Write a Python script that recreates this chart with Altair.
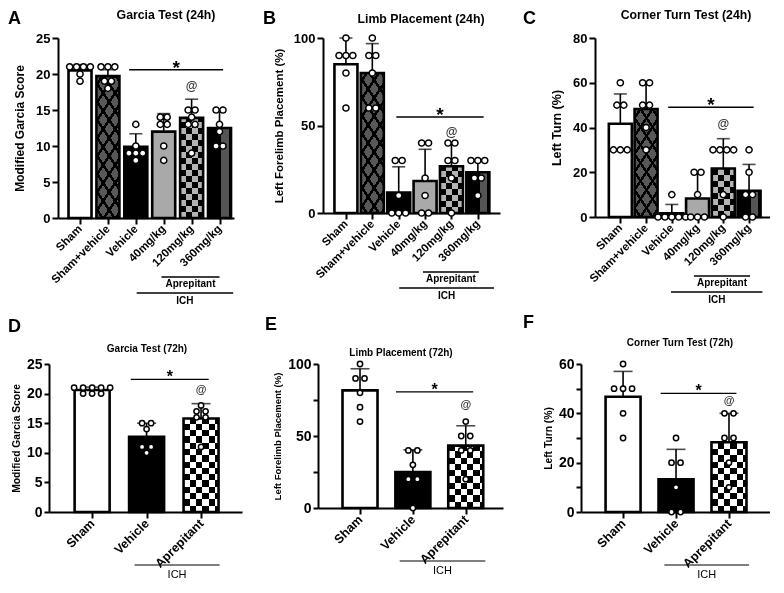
import altair as alt
import pandas as pd
from collections import Counter

FONT = "Liberation Sans"

# ---------------- data ----------------
groups_24h = ["Sham", "Sham+vehicle", "Vehicle", "40mg/kg", "120mg/kg", "360mg/kg"]
groups_72h = ["Sham", "Vehicle", "Aprepitant"]

garcia24_mean = [20.5, 19.7, 9.9, 12.0, 13.9, 12.5]
garcia24_sd = [0.8, 0.9, 1.8, 2.5, 2.6, 2.2]
garcia24_pts = [[21, 21, 21, 21, 20, 19], [21, 21, 21, 19, 19, 18], [13, 10, 9, 9, 9, 8],
                [14, 14, 13, 13, 10, 8], [15, 15, 14, 13, 13, 9], [15, 15, 13, 12, 10, 10]]

limb24_mean = [85.0, 80.0, 11.7, 18.3, 26.7, 23.3]
limb24_sd = [15.0, 16.8, 14.7, 18.1, 13.5, 6.2]
limb24_pts = [[100, 90, 90, 90, 80, 60], [100, 90, 90, 80, 60, 60], [30, 30, 10, 0, 0, 0],
              [40, 40, 20, 10, 0, 0], [40, 40, 30, 30, 20, 0], [30, 30, 30, 20, 20, 10]]

corner24_mean = [41.7, 48.3, 1.7, 8.3, 21.7, 11.7]
corner24_sd = [13.3, 11.9, 3.9, 11.7, 13.3, 11.8]
corner24_pts = [[60, 50, 50, 30, 30, 30], [60, 60, 50, 50, 40, 30], [10, 0, 0, 0, 0, 0],
                [20, 20, 10, 0, 0, 0], [30, 30, 30, 30, 10, 0], [30, 20, 10, 10, 0, 0]]

garcia72_mean = [20.6, 12.7, 15.8]
garcia72_sd = [0.5, 2.3, 2.5]
garcia72_pts = [[21, 21, 21, 21, 21, 20, 20, 20], [15, 15, 14, 11, 11, 10], [18, 17, 17, 16, 16, 11]]

limb72_mean = [81.7, 25.0, 43.3]
limb72_sd = [15.0, 15.4, 13.8]
limb72_pts = [[100, 90, 90, 80, 70, 60], [40, 40, 30, 20, 20, 0], [60, 50, 50, 40, 40, 20]]

corner72_mean = [46.7, 13.3, 28.3]
corner72_sd = [10.3, 12.1, 11.7]
corner72_pts = [[60, 50, 50, 50, 40, 30], [30, 20, 20, 10, 0, 0], [40, 40, 30, 30, 20, 10]]

base_fill = {"Sham": "white", "Sham+vehicle": "#5a5a5a", "Vehicle": "black", "40mg/kg": "#a9a9a9",
             "120mg/kg": "#808080", "360mg/kg": "#2a2a2a", "Aprepitant": "#808080"}


# ---------------- pattern helpers ----------------
def gs(c, o):
    return alt.GradientStop(color=c, offset=round(min(max(o, 0.0), 1.0), 5))


def stripe_stops(total, sq, c1, c2):
    stops, pos, k = [], 0.0, 0
    while pos < total - 1e-6:
        nxt = min(pos + sq, total)
        c = c1 if k % 2 == 0 else c2
        stops += [gs(c, pos / total), gs(c, nxt / total)]
        pos, k = nxt, k + 1
    return stops


def lattice_stops(total, period, thick, line_c, bg_c):
    stops, pos, c = [], 0.0, period / 2
    while c - thick / 2 < total:
        a, b = max(c - thick / 2, 0), min(c + thick / 2, total)
        if a > pos:
            stops += [gs(bg_c, pos / total), gs(bg_c, a / total)]
        stops += [gs(line_c, a / total), gs(line_c, b / total)]
        pos, c = b, c + period
    if pos < total:
        stops += [gs(bg_c, pos / total), gs(bg_c, 1.0)]
    return stops


def grad(stops, x1, y1, x2, y2):
    return alt.LinearGradient(gradient="linear", stops=stops, x1=x1, y1=y1, x2=x2, y2=y2)


# ---------------- panel builder ----------------
def panel(cfg, top):
    cats = cfg["cats"]
    n = len(cats)
    W, H = cfg["w"], cfg["h"]
    x0, x1 = cfg["xdom"]
    ymax = cfg["ymax"]
    ppu = W / (x1 - x0)
    bsz = 23 if top else 35
    sq = 6.0 if top else 6.3
    lab_fs = 11.5 if top else 12.5
    title_fs = 12.3 if top else 10
    pt_size = 38 if top else 28
    gap = 7.3 if top else 9.5
    cap = 13 if top else 19

    xs = alt.Scale(domain=[x0, x1], nice=False, zero=False)
    ys = alt.Scale(domain=[0, ymax], nice=False, zero=True)
    names_js = "[" + ",".join("'%s'" % c for c in cats) + "]"
    lab_js = "[" + ",".join(str(v) for v in cfg["ylab"]) + "]"
    xaxis = alt.Axis(values=list(range(n)), labelExpr=f"{names_js}[round(datum.value)]", labelAngle=-45,
                     labelAlign="right", labelBaseline="middle", labelFontSize=lab_fs, labelFontWeight="bold",
                     labelColor="black", labelPadding=3, tickSize=6, tickWidth=2, tickColor="black",
                     domainWidth=2, domainColor="black", title=None, grid=False, labelOverlap=False,
                     labelFlush=False, labelFont=FONT)
    yaxis = alt.Axis(values=cfg["yticks"], labelExpr=f"indexof({lab_js}, datum.value) >= 0 ? datum.label : ''",
                     title=cfg["ytitle"], titleFontSize=cfg["ytfs"], titleFontWeight="bold", titleColor="black",
                     titlePadding=9 if top else 5, titleFont=FONT, labelFontSize=13 if top else 14,
                     labelFontWeight="bold", labelColor="black", labelPadding=2, tickSize=6 if top else 5,
                     tickWidth=2, tickColor="black", domainWidth=2, domainColor="black", grid=False,
                     labelOverlap=False, labelFlush=False, labelFont=FONT)

    def XF(f):
        return alt.X(f, scale=xs, axis=xaxis)

    def YF(f):
        return alt.Y(f, scale=ys, axis=yaxis, stack=None)

    bars = pd.DataFrame({"x": list(range(n)), "mean": cfg["mean"],
                         "top": [m + s for m, s in zip(cfg["mean"], cfg["sd"])],
                         "fill": [base_fill[c] for c in cats]})
    X = XF("x:Q")
    Y = YF("mean:Q")

    layers = [alt.Chart(bars).mark_bar(orient="vertical", size=bsz, strokeWidth=0).encode(
        x=X, y=Y, color=alt.Color("fill:N", scale=None))]

    # patterned fills
    for i, c in enumerate(cats):
        d = bars.iloc[[i]]
        hpx = cfg["mean"][i] / ymax * H
        w = bsz
        if c in ("120mg/kg", "Aprepitant"):
            light = "#b4b4b4" if c == "120mg/kg" else "white"
            g1 = grad(stripe_stops(hpx, sq, "black", light), 0, 1, 0, 0)
            g2 = grad(stripe_stops(w, sq, light, "black"), 0, 0, 1, 0)
            layers.append(alt.Chart(d).mark_bar(orient="vertical", size=bsz, fill=g1, strokeWidth=0).encode(x=X, y=Y))
            layers.append(alt.Chart(d).mark_bar(orient="vertical", size=bsz, fill=g2, strokeWidth=0,
                                                blend="difference").encode(x=X, y=Y))
        elif c == "Sham+vehicle":
            h = hpx
            r = 1.5                      # diamond height / width
            cc = (r * w + h) / (r * r * w * w + h * h)
            tot = r * w + h
            g1 = grad(lattice_stops(tot, 18, 4.6, "black", "white"), 0, 0, cc * r * w, cc * h)
            g2 = grad(lattice_stops(tot, 18, 4.6, "black", "#585858"), 0, 1, cc * r * w, 1 - cc * h)
            layers.append(alt.Chart(d).mark_bar(orient="vertical", size=bsz, fill=g1, strokeWidth=0).encode(x=X, y=Y))
            layers.append(alt.Chart(d).mark_bar(orient="vertical", size=bsz, fill=g2, strokeWidth=0,
                                                blend="multiply").encode(x=X, y=Y))
        elif c == "360mg/kg":
            g = grad([gs("black", 0), gs("black", 0.58), gs("#555555", 0.58), gs("#555555", 0.9),
                      gs("black", 0.9), gs("black", 1)], 0, 0, 1, 0)
            layers.append(alt.Chart(d).mark_bar(orient="vertical", size=bsz, fill=g, strokeWidth=0).encode(x=X, y=Y))

    # outline
    layers.append(alt.Chart(bars).mark_bar(orient="vertical", size=bsz, fillOpacity=0, stroke="black",
                                           strokeWidth=2.6).encode(x=X, y=Y))
    # error bars
    layers.append(alt.Chart(bars).mark_rule(color="black", strokeWidth=1.6).encode(
        x=X, y=Y, y2="top:Q"))
    layers.append(alt.Chart(bars).mark_tick(orient="horizontal", size=cap, thickness=1.6, color="black").encode(
        x=X, y=YF("top:Q")))

    # points (beeswarm of identical values)
    rows = []
    for i, vals in enumerate(cfg["pts"]):
        cnt = Counter(vals)
        for v, m in cnt.items():
            for j in range(m):
                rows.append({"x": i + (j - (m - 1) / 2) * gap / ppu, "v": v})
    pts = pd.DataFrame(rows)
    layers.append(alt.Chart(pts).mark_point(shape="circle", filled=True, fill="white", stroke="black",
                                            strokeWidth=1.5, size=pt_size, opacity=1).encode(
        x=X, y=YF("v:Q")))

    # significance line, star and @
    sx1, sx2, sy = cfg["sig"]
    sig = pd.DataFrame({"x": [sx1], "x2": [sx2], "y": [sy], "xc": [(sx1 + sx2) / 2]})
    layers.append(alt.Chart(sig).mark_rule(color="black", strokeWidth=1.5 if top else 1.2).encode(
        x=X, x2="x2:Q", y=YF("y:Q")))
    layers.append(alt.Chart(sig).mark_text(text="*", font=FONT, fontSize=19 if top else 16, fontWeight="bold",
                                           baseline="alphabetic", dy=4 if top else 3, color="black").encode(
        x=XF("xc:Q"), y=YF("y:Q")))
    ax, ay = cfg["at"]
    at = pd.DataFrame({"x": [ax], "y": [ay]})
    layers.append(alt.Chart(at).mark_text(text="@", font=FONT, fontSize=12 if top else 11, fontWeight="bold",
                                          baseline="middle", color="#333333").encode(
        x=X, y=YF("y:Q")))

    # group brackets below labels
    for (lab, bx1, bx2, ly, ty, fw) in cfg["brackets"]:
        bd = pd.DataFrame({"x": [bx1], "x2": [bx2], "xc": [(bx1 + bx2) / 2], "t": [lab]})
        layers.append(alt.Chart(bd).mark_rule(color="black", strokeWidth=1.5 if top else 1.2).encode(
            x=X, x2="x2:Q", y=alt.value(H + ly)))
        layers.append(alt.Chart(bd).mark_text(font=FONT, fontSize=10 if top else 11, fontWeight=fw,
                                              baseline="middle", color="black").encode(
            x=XF("xc:Q"), y=alt.value(H + ty), text="t:N"))

    # letter and title
    lt = pd.DataFrame({"t": [cfg["letter"]], "u": [cfg["title"]]})
    layers.append(alt.Chart(lt).mark_text(font=FONT, fontSize=18, fontWeight="bold", align="left",
                                          baseline="middle", color="black").encode(
        x=alt.value(cfg["lx"]), y=alt.value(cfg["ly"]), text="t:N"))
    layers.append(alt.Chart(lt).mark_text(font=FONT, fontSize=title_fs, fontWeight="bold", align="center",
                                          baseline="middle", color="black").encode(
        x=alt.value(cfg["tx"]), y=alt.value(cfg["ty"]), text="u:N"))

    return alt.layer(*layers).properties(width=W, height=H)


def spacer(w):
    return alt.Chart(pd.DataFrame({"v": [0]})).mark_point(opacity=0).encode(
        x=alt.value(0), y=alt.value(0)).properties(width=w, height=1)


top_br = lambda a1, a2, i1, i2: [("Aprepitant", a1, a2, 59, 66, "bold"), ("ICH", i1, i2, 75, 83, "bold")]
bot_br = lambda i1, i2: [("ICH", i1, i2, 53, 63, "normal")]

cfgA = dict(cats=groups_24h, w=176, h=180, xdom=[-0.61, 5.34], ymax=25, yticks=[0, 5, 10, 15, 20, 25],
            ylab=[0, 5, 10, 15, 20, 25], ytitle="Modified Garcia Score", ytfs=12, mean=garcia24_mean,
            sd=garcia24_sd, pts=garcia24_pts, sig=(1.76, 5.13, 20.6), at=(4, 18.4),
            brackets=top_br(2.92, 5.0, 2.03, 5.49),
            letter="A", lx=-50, ly=-19, title="Garcia Test (24h)", tx=108, ty=-23)
cfgB = dict(cats=groups_24h, w=177, h=175, xdom=[-0.68, 5.65], ymax=100, yticks=[0, 50, 100],
            ylab=[0, 50, 100], ytitle="Left Forelimb Placement (%)", ytfs=11.5, mean=limb24_mean, sd=limb24_sd,
            pts=limb24_pts, sig=(1.91, 5.22, 54.9), at=(4, 46.3), brackets=top_br(2.92, 5.04, 2.02, 5.61),
            letter="B", lx=-60, ly=-19, title="Limb Placement (24h)", tx=98, ty=-19)
cfgC = dict(cats=groups_24h, w=175, h=179, xdom=[-0.79, 5.62], ymax=80, yticks=[0, 20, 40, 60, 80],
            ylab=[0, 20, 40, 60, 80], ytitle="Left Turn (%)", ytfs=12.5, mean=corner24_mean, sd=corner24_sd,
            pts=corner24_pts, sig=(1.86, 5.18, 49.1), at=(4, 41.5), brackets=top_br(2.86, 5.04, 1.97, 5.52),
            letter="C", lx=-72, ly=-19, title="Corner Turn Test (24h)", tx=91, ty=-23)
cfgD = dict(cats=groups_72h, w=193, h=148, xdom=[-0.70, 2.66], ymax=25, yticks=[0, 5, 10, 15, 20, 25],
            ylab=[0, 5, 10, 15, 20, 25], ytitle="Modified Garcia Score", ytfs=10.3, mean=garcia72_mean,
            sd=garcia72_sd, pts=garcia72_pts, sig=(0.71, 2.14, 22.4), at=(2, 20.6), brackets=bot_br(0.78, 2.34),
            letter="D", lx=-41, ly=-37, title="Garcia Test (72h)", tx=98, ty=-15)
cfgE = dict(cats=groups_72h, w=185, h=144, xdom=[-0.70, 2.61], ymax=100, yticks=[0, 25, 50, 75, 100],
            ylab=[0, 50, 100], ytitle="Left Forelimb Placement (%)", ytfs=9.5, mean=limb72_mean, sd=limb72_sd,
            pts=limb72_pts, sig=(0.68, 2.14, 80.7), at=(2, 71.3), brackets=bot_br(0.75, 2.37),
            letter="E", lx=-53, ly=-39, title="Limb Placement (72h)", tx=83, ty=-11)
cfgF = dict(cats=groups_72h, w=189, h=148, xdom=[-0.70, 2.68], ymax=60, yticks=[0, 10, 20, 30, 40, 50, 60],
            ylab=[0, 20, 40, 60], ytitle="Left Turn (%)", ytfs=10.3, mean=corner72_mean, sd=corner72_sd,
            pts=corner72_pts, sig=(0.71, 2.14, 48.1), at=(2, 45.0), brackets=bot_br(0.78, 2.38),
            letter="F", lx=-58, ly=-41, title="Corner Turn Test (72h)", tx=99, ty=-21)

row1 = alt.hconcat(spacer(10), panel(cfgA, True), spacer(89), panel(cfgB, True), spacer(95), panel(cfgC, True),
                   spacing=0, bounds="flush")
row2 = alt.hconcat(spacer(1), panel(cfgD, False), spacer(76), panel(cfgE, False), spacer(78), panel(cfgF, False),
                   spacing=0, bounds="flush")

chart = alt.vconcat(row1, row2, spacing=8).resolve_scale(x="independent", y="independent").properties(
    padding={"left": 0, "top": 1, "right": 0, "bottom": 0}).configure(
    font=FONT, background="white", view=alt.ViewConfig(stroke=None))

chart.save("out.html", embed_options={"renderer": "svg", "actions": False})
